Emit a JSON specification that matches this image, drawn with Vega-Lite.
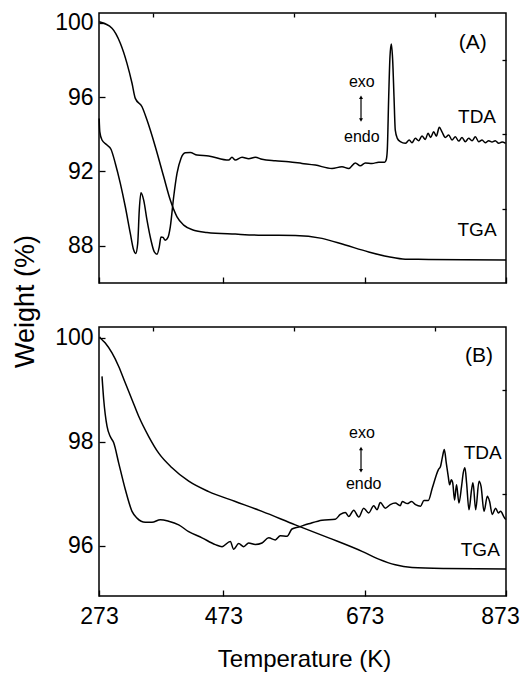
{
  "$schema": "https://vega.github.io/schema/vega-lite/v6.json",
  "padding": {"left": 10, "top": 10, "right": 0, "bottom": 0},
  "background": "white",
  "spacing": 44,
  "bounds": "flush",
  "config": {
    "view": {"stroke": "black", "strokeWidth": 1.5},
    "axis": {"domain": false, "grid": false, "labelFlush": false, "tickColor": "black", "tickWidth": 1.3, "labelFont": "Liberation Sans", "labelFontSize": 23, "labelColor": "black", "titleFont": "Liberation Sans", "titleFontWeight": "normal", "titleColor": "black"},
    "text": {"font": "Liberation Sans", "color": "black"},
    "line": {"color": "black", "strokeWidth": 1.5}
  },
  "datasets": {
    "A": [
      {"s": "TGA", "T": 273.5, "w": 100.05}, {"s": "TGA", "T": 297.2, "w": 99.70}, {"s": "TGA", "T": 312.7, "w": 98.89}, {"s": "TGA", "T": 325.1, "w": 97.81}, {"s": "TGA", "T": 334.5, "w": 96.74}, {"s": "TGA", "T": 340.6, "w": 95.93}, {"s": "TGA", "T": 353.1, "w": 95.48}, {"s": "TGA", "T": 362.4, "w": 94.76}, {"s": "TGA", "T": 376.7, "w": 93.33}, {"s": "TGA", "T": 388.6, "w": 91.71}, {"s": "TGA", "T": 397.9, "w": 90.46}, {"s": "TGA", "T": 407.4, "w": 89.56}, {"s": "TGA", "T": 416.9, "w": 89.11}, {"s": "TGA", "T": 431.0, "w": 88.84}, {"s": "TGA", "T": 449.8, "w": 88.72}, {"s": "TGA", "T": 489.9, "w": 88.63}, {"s": "TGA", "T": 527.7, "w": 88.57}, {"s": "TGA", "T": 574.8, "w": 88.56}, {"s": "TGA", "T": 612.6, "w": 88.40}, {"s": "TGA", "T": 645.6, "w": 88.04}, {"s": "TGA", "T": 678.7, "w": 87.67}, {"s": "TGA", "T": 707.0, "w": 87.41}, {"s": "TGA", "T": 730.4, "w": 87.28}, {"s": "TGA", "T": 763.6, "w": 87.27}, {"s": "TGA", "T": 873, "w": 87.24},
      {"s": "TDA", "T": 273.3, "w": 94.85}, {"s": "TDA", "T": 274.5, "w": 94.13}, {"s": "TDA", "T": 278.6, "w": 93.69}, {"s": "TDA", "T": 287.9, "w": 93.42}, {"s": "TDA", "T": 295.3, "w": 93.19}, {"s": "TDA", "T": 303.4, "w": 92.43}, {"s": "TDA", "T": 312.7, "w": 91.36}, {"s": "TDA", "T": 322.0, "w": 90.10}, {"s": "TDA", "T": 331.3, "w": 88.67}, {"s": "TDA", "T": 337.6, "w": 87.77}, {"s": "TDA", "T": 341.3, "w": 87.59}, {"s": "TDA", "T": 345.1, "w": 88.13}, {"s": "TDA", "T": 348.0, "w": 89.92}, {"s": "TDA", "T": 351.2, "w": 90.85}, {"s": "TDA", "T": 356.2, "w": 90.46}, {"s": "TDA", "T": 362.4, "w": 89.38}, {"s": "TDA", "T": 369.8, "w": 88.30}, {"s": "TDA", "T": 375.3, "w": 87.67}, {"s": "TDA", "T": 379.1, "w": 87.55}, {"s": "TDA", "T": 382.3, "w": 87.94}, {"s": "TDA", "T": 384.7, "w": 88.48}, {"s": "TDA", "T": 387.6, "w": 88.45}, {"s": "TDA", "T": 390.8, "w": 88.30}, {"s": "TDA", "T": 394.6, "w": 88.45}, {"s": "TDA", "T": 397.9, "w": 89.02}, {"s": "TDA", "T": 402.7, "w": 90.64}, {"s": "TDA", "T": 407.4, "w": 91.89}, {"s": "TDA", "T": 413.0, "w": 92.70}, {"s": "TDA", "T": 419.1, "w": 93.00}, {"s": "TDA", "T": 426.2, "w": 93.02}, {"s": "TDA", "T": 435.7, "w": 92.88}, {"s": "TDA", "T": 452.2, "w": 92.83}, {"s": "TDA", "T": 480.5, "w": 92.61}, {"s": "TDA", "T": 485.2, "w": 92.76}, {"s": "TDA", "T": 489.9, "w": 92.61}, {"s": "TDA", "T": 499.4, "w": 92.76}, {"s": "TDA", "T": 508.9, "w": 92.68}, {"s": "TDA", "T": 518.2, "w": 92.76}, {"s": "TDA", "T": 527.7, "w": 92.65}, {"s": "TDA", "T": 546.5, "w": 92.57}, {"s": "TDA", "T": 565.5, "w": 92.52}, {"s": "TDA", "T": 584.3, "w": 92.43}, {"s": "TDA", "T": 603.1, "w": 92.34}, {"s": "TDA", "T": 626.7, "w": 92.16}, {"s": "TDA", "T": 640.9, "w": 92.25}, {"s": "TDA", "T": 650.4, "w": 92.16}, {"s": "TDA", "T": 659.7, "w": 92.46}, {"s": "TDA", "T": 666.8, "w": 92.30}, {"s": "TDA", "T": 673.9, "w": 92.46}, {"s": "TDA", "T": 683.3, "w": 92.43}, {"s": "TDA", "T": 692.8, "w": 92.49}, {"s": "TDA", "T": 701.3, "w": 92.49}, {"s": "TDA", "T": 703.4, "w": 92.61}, {"s": "TDA", "T": 705.0, "w": 93.15}, {"s": "TDA", "T": 707.0, "w": 96.02}, {"s": "TDA", "T": 708.8, "w": 98.17}, {"s": "TDA", "T": 710.7, "w": 98.85}, {"s": "TDA", "T": 712.6, "w": 97.99}, {"s": "TDA", "T": 714.5, "w": 96.02}, {"s": "TDA", "T": 716.3, "w": 94.22}, {"s": "TDA", "T": 719.2, "w": 93.78}, {"s": "TDA", "T": 723.4, "w": 93.60}, {"s": "TDA", "T": 730.5, "w": 93.51}, {"s": "TDA", "T": 736.1, "w": 93.69}, {"s": "TDA", "T": 739.9, "w": 93.54}, {"s": "TDA", "T": 744.6, "w": 93.78}, {"s": "TDA", "T": 749.4, "w": 93.65}, {"s": "TDA", "T": 754.1, "w": 93.90}, {"s": "TDA", "T": 758.8, "w": 93.72}, {"s": "TDA", "T": 762.6, "w": 94.05}, {"s": "TDA", "T": 766.4, "w": 93.83}, {"s": "TDA", "T": 770.7, "w": 94.13}, {"s": "TDA", "T": 774.4, "w": 93.90}, {"s": "TDA", "T": 778.6, "w": 94.37}, {"s": "TDA", "T": 782.4, "w": 94.13}, {"s": "TDA", "T": 787.1, "w": 93.83}, {"s": "TDA", "T": 791.9, "w": 93.96}, {"s": "TDA", "T": 796.6, "w": 93.69}, {"s": "TDA", "T": 801.3, "w": 93.86}, {"s": "TDA", "T": 806.1, "w": 93.63}, {"s": "TDA", "T": 810.8, "w": 93.83}, {"s": "TDA", "T": 815.4, "w": 93.60}, {"s": "TDA", "T": 820.2, "w": 93.78}, {"s": "TDA", "T": 824.9, "w": 93.65}, {"s": "TDA", "T": 829.6, "w": 93.86}, {"s": "TDA", "T": 834.4, "w": 93.60}, {"s": "TDA", "T": 839.1, "w": 93.69}, {"s": "TDA", "T": 843.7, "w": 93.54}, {"s": "TDA", "T": 848.5, "w": 93.65}, {"s": "TDA", "T": 853.2, "w": 93.58}, {"s": "TDA", "T": 857.8, "w": 93.65}, {"s": "TDA", "T": 862.7, "w": 93.51}, {"s": "TDA", "T": 867.4, "w": 93.58}, {"s": "TDA", "T": 872.5, "w": 93.51}
    ],
    "B": [
      {"s": "TGA", "T": 274.0, "w": 100.02}, {"s": "TGA", "T": 275.4, "w": 100.00}, {"s": "TGA", "T": 284.7, "w": 99.90}, {"s": "TGA", "T": 297.2, "w": 99.71}, {"s": "TGA", "T": 309.7, "w": 99.45}, {"s": "TGA", "T": 322.0, "w": 99.13}, {"s": "TGA", "T": 334.5, "w": 98.81}, {"s": "TGA", "T": 346.9, "w": 98.49}, {"s": "TGA", "T": 365.6, "w": 98.10}, {"s": "TGA", "T": 381.5, "w": 97.78}, {"s": "TGA", "T": 400.3, "w": 97.50}, {"s": "TGA", "T": 424.0, "w": 97.24}, {"s": "TGA", "T": 452.2, "w": 97.04}, {"s": "TGA", "T": 489.9, "w": 96.85}, {"s": "TGA", "T": 527.7, "w": 96.66}, {"s": "TGA", "T": 574.8, "w": 96.40}, {"s": "TGA", "T": 622.1, "w": 96.15}, {"s": "TGA", "T": 669.2, "w": 95.89}, {"s": "TGA", "T": 692.8, "w": 95.74}, {"s": "TGA", "T": 716.3, "w": 95.63}, {"s": "TGA", "T": 740.0, "w": 95.58}, {"s": "TGA", "T": 787.1, "w": 95.56}, {"s": "TGA", "T": 873, "w": 95.55},
      {"s": "TDA", "T": 278.6, "w": 99.26}, {"s": "TDA", "T": 281.8, "w": 98.81}, {"s": "TDA", "T": 287.9, "w": 98.30}, {"s": "TDA", "T": 294.0, "w": 98.10}, {"s": "TDA", "T": 300.4, "w": 97.98}, {"s": "TDA", "T": 309.7, "w": 97.59}, {"s": "TDA", "T": 322.0, "w": 97.08}, {"s": "TDA", "T": 334.5, "w": 96.66}, {"s": "TDA", "T": 343.8, "w": 96.53}, {"s": "TDA", "T": 359.2, "w": 96.45}, {"s": "TDA", "T": 371.7, "w": 96.45}, {"s": "TDA", "T": 383.8, "w": 96.50}, {"s": "TDA", "T": 395.6, "w": 96.47}, {"s": "TDA", "T": 409.8, "w": 96.40}, {"s": "TDA", "T": 423.9, "w": 96.27}, {"s": "TDA", "T": 442.8, "w": 96.15}, {"s": "TDA", "T": 461.6, "w": 96.02}, {"s": "TDA", "T": 471.1, "w": 95.98}, {"s": "TDA", "T": 482.8, "w": 96.08}, {"s": "TDA", "T": 487.6, "w": 95.93}, {"s": "TDA", "T": 494.7, "w": 96.04}, {"s": "TDA", "T": 501.8, "w": 95.98}, {"s": "TDA", "T": 508.8, "w": 96.05}, {"s": "TDA", "T": 518.2, "w": 96.02}, {"s": "TDA", "T": 527.7, "w": 96.05}, {"s": "TDA", "T": 537.2, "w": 96.15}, {"s": "TDA", "T": 546.5, "w": 96.11}, {"s": "TDA", "T": 553.6, "w": 96.19}, {"s": "TDA", "T": 563.1, "w": 96.18}, {"s": "TDA", "T": 570.1, "w": 96.32}, {"s": "TDA", "T": 579.6, "w": 96.36}, {"s": "TDA", "T": 593.8, "w": 96.42}, {"s": "TDA", "T": 612.6, "w": 96.49}, {"s": "TDA", "T": 631.4, "w": 96.51}, {"s": "TDA", "T": 638.5, "w": 96.60}, {"s": "TDA", "T": 645.6, "w": 96.64}, {"s": "TDA", "T": 650.4, "w": 96.56}, {"s": "TDA", "T": 657.5, "w": 96.68}, {"s": "TDA", "T": 664.6, "w": 96.55}, {"s": "TDA", "T": 671.6, "w": 96.72}, {"s": "TDA", "T": 678.7, "w": 96.63}, {"s": "TDA", "T": 685.8, "w": 96.77}, {"s": "TDA", "T": 690.4, "w": 96.69}, {"s": "TDA", "T": 695.1, "w": 96.83}, {"s": "TDA", "T": 702.2, "w": 96.72}, {"s": "TDA", "T": 709.2, "w": 96.79}, {"s": "TDA", "T": 716.3, "w": 96.82}, {"s": "TDA", "T": 723.4, "w": 96.77}, {"s": "TDA", "T": 726.2, "w": 96.85}, {"s": "TDA", "T": 733.3, "w": 96.81}, {"s": "TDA", "T": 739.3, "w": 96.85}, {"s": "TDA", "T": 745.0, "w": 96.79}, {"s": "TDA", "T": 752.1, "w": 96.76}, {"s": "TDA", "T": 756.9, "w": 96.87}, {"s": "TDA", "T": 763.0, "w": 96.87}, {"s": "TDA", "T": 768.7, "w": 97.11}, {"s": "TDA", "T": 777.2, "w": 97.46}, {"s": "TDA", "T": 780.4, "w": 97.53}, {"s": "TDA", "T": 782.8, "w": 97.69}, {"s": "TDA", "T": 785.7, "w": 97.85}, {"s": "TDA", "T": 788.5, "w": 97.59}, {"s": "TDA", "T": 791.3, "w": 97.33}, {"s": "TDA", "T": 793.2, "w": 97.17}, {"s": "TDA", "T": 795.6, "w": 97.27}, {"s": "TDA", "T": 797.6, "w": 97.21}, {"s": "TDA", "T": 800.2, "w": 96.88}, {"s": "TDA", "T": 803.0, "w": 97.17}, {"s": "TDA", "T": 806.4, "w": 96.82}, {"s": "TDA", "T": 810.1, "w": 97.14}, {"s": "TDA", "T": 812.5, "w": 97.40}, {"s": "TDA", "T": 814.9, "w": 97.50}, {"s": "TDA", "T": 817.2, "w": 97.21}, {"s": "TDA", "T": 820.6, "w": 96.69}, {"s": "TDA", "T": 824.3, "w": 97.08}, {"s": "TDA", "T": 826.3, "w": 97.21}, {"s": "TDA", "T": 830.1, "w": 96.69}, {"s": "TDA", "T": 834.8, "w": 97.24}, {"s": "TDA", "T": 837.7, "w": 97.14}, {"s": "TDA", "T": 841.9, "w": 96.66}, {"s": "TDA", "T": 846.6, "w": 96.95}, {"s": "TDA", "T": 849.8, "w": 96.85}, {"s": "TDA", "T": 853.6, "w": 96.60}, {"s": "TDA", "T": 858.3, "w": 96.72}, {"s": "TDA", "T": 862.1, "w": 96.63}, {"s": "TDA", "T": 865.4, "w": 96.66}, {"s": "TDA", "T": 870.2, "w": 96.55}, {"s": "TDA", "T": 872.8, "w": 96.50}
    ],
    "notesA": [
      {"kind": "panel", "t": "(A)", "T": 826, "w": 98.91},
      {"kind": "series", "t": "TDA", "T": 832, "w": 94.92},
      {"kind": "series", "t": "TGA", "T": 832, "w": 88.84},
      {"kind": "dir", "t": "exo", "T": 669, "w": 96.81},
      {"kind": "dir", "t": "endo", "T": 669, "w": 93.85}
    ],
    "notesB": [
      {"kind": "panel", "t": "(B)", "T": 834.8, "w": 99.65},
      {"kind": "series", "t": "TDA", "T": 840, "w": 97.79},
      {"kind": "series", "t": "TGA", "T": 836.6, "w": 95.92},
      {"kind": "dir", "t": "exo", "T": 669.2, "w": 98.16},
      {"kind": "dir", "t": "endo", "T": 671.6, "w": 97.19}
    ],
    "arrowA": [{"T": 667.8, "top": 95.99, "bot": 94.77}],
    "arrowB": [{"T": 667.8, "top": 97.87, "bot": 97.44}]
  },
  "vconcat": [
    {
      "width": 407,
      "height": 270,
      "resolve": {"axis": {"x": "independent", "y": "independent"}},
      "layer": [
        {
          "data": {"name": "A"},
          "mark": {"type": "line", "interpolate": "monotone"},
          "encoding": {
            "x": {"field": "T", "type": "quantitative", "scale": {"domain": [273, 373, 873], "range": [0, 53.7, 407], "nice": false, "zero": false},
              "axis": {"values": [273, 473, 673, 873], "labels": false, "tickSize": -6, "title": null}},
            "y": {"field": "w", "type": "quantitative", "scale": {"domain": [86, 100.52], "nice": false, "zero": false},
              "axis": {"values": [88, 92, 96, 100], "tickSize": -6, "labelPadding": 12, "title": "Weight (%)", "titleFontSize": 27, "titleX": -74, "titleY": 288, "titleAngle": 270, "titleAlign": "center", "titleBaseline": "middle"}},
            "detail": {"field": "s"}
          }
        },
        {
          "data": {"name": "notesA"},
          "transform": [{"filter": "datum.kind == 'panel'"}],
          "mark": {"type": "text", "fontSize": 21, "align": "center", "baseline": "middle"},
          "encoding": {
            "x": {"field": "T", "type": "quantitative", "axis": {"values": [373, 573, 773], "labels": false, "tickSize": -4, "title": null}},
            "y": {"field": "w", "type": "quantitative", "axis": {"values": [90, 94, 98], "labels": false, "tickSize": -4, "title": null}},
            "text": {"field": "t"}
          }
        },
        {
          "data": {"name": "notesA"},
          "transform": [{"filter": "datum.kind == 'series'"}],
          "mark": {"type": "text", "fontSize": 19, "align": "center", "baseline": "middle"},
          "encoding": {
            "x": {"field": "T", "type": "quantitative", "axis": null},
            "y": {"field": "w", "type": "quantitative", "axis": null},
            "text": {"field": "t"}
          }
        },
        {
          "data": {"name": "notesA"},
          "transform": [{"filter": "datum.kind == 'dir'"}],
          "mark": {"type": "text", "fontSize": 16, "align": "center", "baseline": "middle"},
          "encoding": {
            "x": {"field": "T", "type": "quantitative", "axis": null},
            "y": {"field": "w", "type": "quantitative", "axis": null},
            "text": {"field": "t"}
          }
        },
        {
          "data": {"name": "arrowA"},
          "mark": {"type": "rule", "color": "black", "strokeWidth": 1.2},
          "encoding": {
            "x": {"field": "T", "type": "quantitative", "axis": null},
            "y": {"field": "top", "type": "quantitative", "axis": null},
            "y2": {"field": "bot"}
          }
        },
        {
          "data": {"name": "arrowA"},
          "mark": {"type": "point", "shape": "triangle-up", "size": 16, "filled": true, "color": "black", "opacity": 1},
          "encoding": {
            "x": {"field": "T", "type": "quantitative", "axis": null},
            "y": {"field": "top", "type": "quantitative", "axis": null}
          }
        },
        {
          "data": {"name": "arrowA"},
          "mark": {"type": "point", "shape": "triangle-down", "size": 16, "filled": true, "color": "black", "opacity": 1},
          "encoding": {
            "x": {"field": "T", "type": "quantitative", "axis": null},
            "y": {"field": "bot", "type": "quantitative", "axis": null}
          }
        }
      ]
    },
    {
      "width": 407,
      "height": 269,
      "resolve": {"axis": {"x": "independent", "y": "independent"}},
      "layer": [
        {
          "data": {"name": "B"},
          "mark": {"type": "line", "interpolate": "monotone"},
          "encoding": {
            "x": {"field": "T", "type": "quantitative", "scale": {"domain": [273, 373, 873], "range": [0, 53.7, 407], "nice": false, "zero": false},
              "axis": {"values": [273, 473, 673, 873], "tickSize": -6, "labelPadding": 15, "labelOffset": {"condition": {"test": "datum.value == 873", "value": -6}, "value": 0}, "title": "Temperature (K)", "titleFontSize": 24, "titleX": 205, "titleY": 70, "titleBaseline": "alphabetic"}},
            "y": {"field": "w", "type": "quantitative", "scale": {"domain": [95.03, 100.21], "nice": false, "zero": false},
              "axis": {"values": [96, 98, 100], "tickSize": -6, "labelPadding": 12, "title": null}},
            "detail": {"field": "s"}
          }
        },
        {
          "data": {"name": "notesB"},
          "transform": [{"filter": "datum.kind == 'panel'"}],
          "mark": {"type": "text", "fontSize": 21, "align": "center", "baseline": "middle"},
          "encoding": {
            "x": {"field": "T", "type": "quantitative", "axis": {"values": [373, 573, 773], "labels": false, "tickSize": -4, "title": null}},
            "y": {"field": "w", "type": "quantitative", "axis": {"values": [97, 99], "labels": false, "tickSize": -4, "title": null}},
            "text": {"field": "t"}
          }
        },
        {
          "data": {"name": "notesB"},
          "transform": [{"filter": "datum.kind == 'series'"}],
          "mark": {"type": "text", "fontSize": 19, "align": "center", "baseline": "middle"},
          "encoding": {
            "x": {"field": "T", "type": "quantitative", "axis": null},
            "y": {"field": "w", "type": "quantitative", "axis": null},
            "text": {"field": "t"}
          }
        },
        {
          "data": {"name": "notesB"},
          "transform": [{"filter": "datum.kind == 'dir'"}],
          "mark": {"type": "text", "fontSize": 16, "align": "center", "baseline": "middle"},
          "encoding": {
            "x": {"field": "T", "type": "quantitative", "axis": null},
            "y": {"field": "w", "type": "quantitative", "axis": null},
            "text": {"field": "t"}
          }
        },
        {
          "data": {"name": "arrowB"},
          "mark": {"type": "rule", "color": "black", "strokeWidth": 1.2},
          "encoding": {
            "x": {"field": "T", "type": "quantitative", "axis": null},
            "y": {"field": "top", "type": "quantitative", "axis": null},
            "y2": {"field": "bot"}
          }
        },
        {
          "data": {"name": "arrowB"},
          "mark": {"type": "point", "shape": "triangle-up", "size": 16, "filled": true, "color": "black", "opacity": 1},
          "encoding": {
            "x": {"field": "T", "type": "quantitative", "axis": null},
            "y": {"field": "top", "type": "quantitative", "axis": null}
          }
        },
        {
          "data": {"name": "arrowB"},
          "mark": {"type": "point", "shape": "triangle-down", "size": 16, "filled": true, "color": "black", "opacity": 1},
          "encoding": {
            "x": {"field": "T", "type": "quantitative", "axis": null},
            "y": {"field": "bot", "type": "quantitative", "axis": null}
          }
        }
      ]
    }
  ]
}
